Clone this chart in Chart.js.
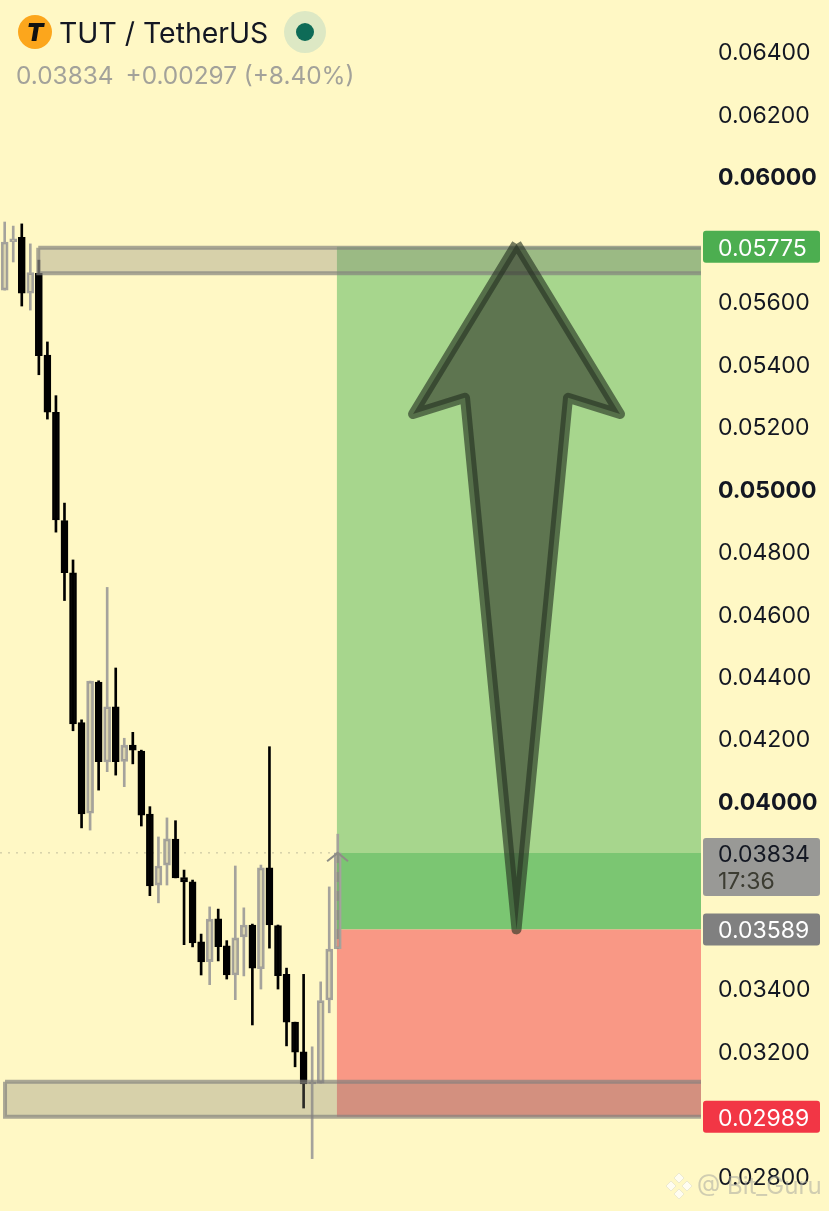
<!DOCTYPE html>
<html>
<head>
<meta charset="utf-8">
<title>TUT / TetherUS</title>
<script src="https://cdn.jsdelivr.net/npm/chart.js@4"></script>
<style>
    html, body { margin: 0; padding: 0; background: #fff8c5; }
    #wrap { position: relative; width: 829px; height: 1211px; overflow: hidden; font-family: Inter, sans-serif; }
    canvas { position: absolute; left: 0; top: 0; }
    .abs { position: absolute; white-space: nowrap; }
    #logo { left: 18px; top: 15px; width: 34px; height: 34px; border-radius: 50%; background: #fca61c;
            color: #111; font: italic 900 25px/34px Inter, sans-serif; text-align: center; }
    #pair { left: 59px; top: 15px; font-size: 28.4px; line-height: 36px; color: #131722; }
    #dotOuter { left: 284px; top: 11px; width: 42px; height: 42px; border-radius: 50%; background: #dde8c4; }
    #dotInner { left: 296px; top: 23px; width: 18px; height: 18px; border-radius: 50%; background: #0e6b57; }
    #quote { left: 16px; top: 60px; font-size: 24.4px; line-height: 30px; color: #a3a29a; }
    #quote span { margin-right: 12px; }
    #mark { left: 697px; top: 1171px; font-size: 24px; line-height: 30px; color: rgba(170,170,160,.55); }
    #diamond { left: 665px; top: 1172px; }
</style>
</head>
<body>
<div id="wrap">
    <canvas id="myChart" width="829" height="1211"></canvas>
    <div class="abs" id="logo">T</div>
    <div class="abs" id="pair">TUT / TetherUS</div>
    <div class="abs" id="dotOuter"></div>
    <div class="abs" id="dotInner"></div>
    <div class="abs" id="quote"><span>0.03834</span>+0.00297 (+8.40%)</div>
    <svg class="abs" id="diamond" width="28" height="28" viewBox="0 0 28 28">
        <g fill="rgba(255,255,255,.75)" stroke="rgba(170,170,160,.35)" stroke-width=".6">
            <path d="M14 1l5 5-5 5-5-5z"/><path d="M14 17l5 5-5 5-5-5z"/>
            <path d="M6 9l5 5-5 5-5-5z"/><path d="M22 9l5 5-5 5-5-5z"/>
        </g>
    </svg>
    <div class="abs" id="mark">@ Bit_Guru</div>
</div>
<script>
// candles, oldest first
const candleOpen = [0.05636, 0.05791, 0.05805, 0.05626, 0.05690, 0.05428, 0.05245, 0.04898, 0.04731, 0.04251,
    0.03961, 0.04381, 0.04125, 0.04302, 0.04127, 0.04179, 0.04160, 0.03958, 0.03731, 0.03795,
    0.03878, 0.03755, 0.03741, 0.03549, 0.03486, 0.03623, 0.03536, 0.03443, 0.03565, 0.03603,
    0.03463, 0.03786, 0.03601, 0.03445, 0.03292, 0.03197, 0.03094, 0.03097, 0.03363, 0.03527];
const candleClose = [0.05790, 0.05800, 0.05626, 0.05692, 0.05426, 0.05245, 0.04900, 0.04731, 0.04247, 0.03959,
    0.04384, 0.04126, 0.04302, 0.04126, 0.04179, 0.04163, 0.03955, 0.03728, 0.03792, 0.03879,
    0.03754, 0.03741, 0.03546, 0.03485, 0.03622, 0.03534, 0.03443, 0.03562, 0.03603, 0.03465,
    0.03786, 0.03603, 0.03441, 0.03292, 0.03196, 0.03094, 0.03101, 0.03361, 0.03526, 0.03834];
const candleHigh = [0.05854, 0.05841, 0.05848, 0.05784, 0.05732, 0.05470, 0.05298, 0.04954, 0.04772, 0.04260,
    0.04384, 0.04385, 0.04684, 0.04426, 0.04201, 0.04220, 0.04163, 0.03982, 0.03885, 0.03946,
    0.03937, 0.03779, 0.03747, 0.03574, 0.03661, 0.03654, 0.03553, 0.03792, 0.03658, 0.03606,
    0.03795, 0.04174, 0.03603, 0.03465, 0.03292, 0.03445, 0.03213, 0.03421, 0.03725, 0.03894];
const candleLow = [0.05636, 0.05726, 0.05585, 0.05572, 0.05365, 0.05223, 0.04861, 0.04642, 0.04225, 0.03914,
    0.03907, 0.04035, 0.04094, 0.04083, 0.04046, 0.04119, 0.03920, 0.03697, 0.03674, 0.03731,
    0.03754, 0.03540, 0.03533, 0.03443, 0.03412, 0.03488, 0.03430, 0.03364, 0.03440, 0.03283,
    0.03398, 0.03529, 0.03398, 0.03216, 0.03149, 0.03017, 0.02855, 0.03097, 0.03322, 0.03527];

const priceTicks = [0.064, 0.062, 0.060, 0.056, 0.054, 0.052, 0.050, 0.048, 0.046, 0.044, 0.042, 0.040, 0.034, 0.032, 0.028];

const lastPrice = 0.03834;
const entryPrice = 0.03589;
const targetPrice = 0.05775;
const stopPrice = 0.02989;
const countdown = '17:36';

// zones: bar index where they begin, all run off the right edge
const zoneStart = 38.9;
const zoneEnd = 82;
const upperBoxStart = 3.93;
const upperBoxTop = 0.05772;
const upperBoxBottom = 0.05690;
const lowerBoxStart = 0.04;
const lowerBoxTop = 0.03101;
const lowerBoxBottom = 0.02989;

// trade arrow outline
const arrowIndex = [59.93, 72.05, 65.96, 59.93, 53.9, 47.81, 59.93];
const arrowPrice = [0.05784, 0.05239, 0.05291, 0.03589, 0.05291, 0.05239, 0.05784];

// little chevron and dashes on the last candle
const chevronIndex = [37.75, 39, 40.2];
const chevronPrice = [0.03807, 0.03834, 0.03807];

const indexes = candleOpen.map((v, i) => i);
const isUp = candleOpen.map((v, i) => candleClose[i] >= v);

function rect(x1, x2, top, bottom) {
    return [{ x: x1, y: top }, { x: x2, y: top }, { x: x2, y: bottom }, { x: x1, y: bottom }, { x: x1, y: top }];
}

function zone(points, color, order) {
    return { type: 'line', data: points, fill: 'shape', backgroundColor: color, borderWidth: 0, pointRadius: 0, tension: 0, order: order };
}

function box(points, order) {
    return { type: 'line', data: points, fill: 'shape', backgroundColor: 'rgba(130,127,115,.32)',
        borderColor: 'rgba(130,128,125,.68)', borderWidth: 4, borderJoinStyle: 'miter', pointRadius: 0, tension: 0, order: order };
}

const wickColors = isUp.map(up => up ? '#a5a39c' : '#000000');

// draws the price tags sitting on the right axis
const priceTags = {
    id: 'priceTags',
    afterDraw(chart) {
        const ctx = chart.ctx;
        const y = chart.scales.y;
        const tag = (price, color, text, textColor, height, offset) => {
            const py = y.getPixelForValue(price);
            ctx.fillStyle = color;
            ctx.beginPath();
            ctx.roundRect(703, py - offset, 117, height, 3);
            ctx.fill();
            ctx.fillStyle = textColor;
            ctx.font = '23px Inter, sans-serif';
            ctx.textAlign = 'left';
            ctx.textBaseline = 'middle';
            ctx.fillText(text, 718, py + 2);
        };
        tag(targetPrice, '#4cae50', targetPrice.toFixed(5), '#ffffff', 32, 16);
        tag(lastPrice, '#999996', lastPrice.toFixed(5), '#131722', 58, 15);
        ctx.fillStyle = '#3c3c32';
        ctx.fillText(countdown, 718, y.getPixelForValue(lastPrice) + 29);
        tag(entryPrice, '#808080', entryPrice.toFixed(5), '#ffffff', 32, 16);
        tag(stopPrice, '#f23645', stopPrice.toFixed(5), '#ffffff', 32, 16);
    }
};

const ctx = document.getElementById('myChart').getContext('2d');
new Chart(ctx, {
    type: 'bar',
    plugins: [priceTags],
    data: {
        datasets: [
            // order: higher is painted first
            zone(rect(zoneStart, zoneEnd, targetPrice, lastPrice), '#a7d68d', 20),
            zone(rect(zoneStart, zoneEnd, lastPrice, entryPrice), '#7bc672', 19),
            zone(rect(zoneStart, zoneEnd, entryPrice, stopPrice), '#f99885', 18),
            {
                type: 'line',
                data: [{ x: -0.55, y: lastPrice }, { x: zoneStart, y: lastPrice }],
                borderColor: 'rgba(150,150,130,.6)', borderWidth: 1, borderDash: [2, 6], pointRadius: 0, order: 17
            },
            {
                label: 'upper wick', grouped: false, barThickness: 2, order: 10,
                data: indexes.map(i => ({ x: i, y: [Math.max(candleOpen[i], candleClose[i]), candleHigh[i]] })),
                backgroundColor: wickColors
            },
            {
                label: 'lower wick', grouped: false, barThickness: 2, order: 9,
                data: indexes.map(i => ({ x: i, y: [candleLow[i], Math.min(candleOpen[i], candleClose[i])] })),
                backgroundColor: wickColors
            },
            {
                label: 'body', grouped: false, barThickness: 7, order: 8,
                data: indexes.map(i => ({ x: i, y: [candleOpen[i], candleClose[i]] })),
                backgroundColor: isUp.map(up => up ? 'rgba(130,127,115,.28)' : '#000000'),
                borderColor: isUp.map(up => up ? '#a5a39c' : '#000000'),
                borderWidth: 2, borderSkipped: false
            },
            {
                type: 'line',
                data: [{ x: 39, y: candleClose[39] }, { x: 39, y: candleOpen[39] }],
                borderColor: '#8e8e86', borderWidth: 2, borderDash: [10, 9], pointRadius: 0, order: 7
            },
            {
                type: 'line',
                data: chevronIndex.map((v, i) => ({ x: v, y: chevronPrice[i] })),
                borderColor: '#8e8e86', borderWidth: 2, pointRadius: 0, tension: 0, order: 6
            },
            box(rect(upperBoxStart, zoneEnd, upperBoxTop, upperBoxBottom), 5),
            box(rect(lowerBoxStart, zoneEnd, lowerBoxTop, lowerBoxBottom), 4),
            {
                type: 'line',
                data: arrowIndex.map((v, i) => ({ x: v, y: arrowPrice[i] })),
                fill: 'shape',
                backgroundColor: 'rgba(45,52,40,.6)',
                borderColor: 'rgba(35,48,32,.62)',
                borderWidth: 10, borderJoinStyle: 'round', pointRadius: 0, tension: 0, order: 1
            }
        ]
    },
    options: {
        responsive: false,
        animation: false,
        devicePixelRatio: 1,
        layout: { padding: 0 },
        plugins: { legend: { display: false }, tooltip: { enabled: false } },
        scales: {
            x: { type: 'linear', display: false, offset: false, min: -0.55, max: 81.53 },
            y: {
                type: 'linear',
                position: 'right',
                min: 0.026873,
                max: 0.065649,
                grid: { display: false, drawTicks: false },
                border: { display: false },
                afterBuildTicks: axis => { axis.ticks = priceTicks.map(v => ({ value: v })); },
                afterFit: axis => { axis.width = 128; axis.paddingTop = 0; axis.paddingBottom = 0; },
                ticks: {
                    padding: 17,
                    color: '#131722',
                    // empty first line nudges the label 2px down, matching the reference
                    callback: v => ['', v.toFixed(5)],
                    font: c => ({
                        family: 'Inter, sans-serif',
                        size: 23,
                        lineHeight: 0.17,
                        weight: c.tick && Math.abs(c.tick.value * 100 - Math.round(c.tick.value * 100)) < 1e-6 ? 'bold' : 'normal'
                    })
                }
            }
        }
    }
});
</script>
</body>
</html>
